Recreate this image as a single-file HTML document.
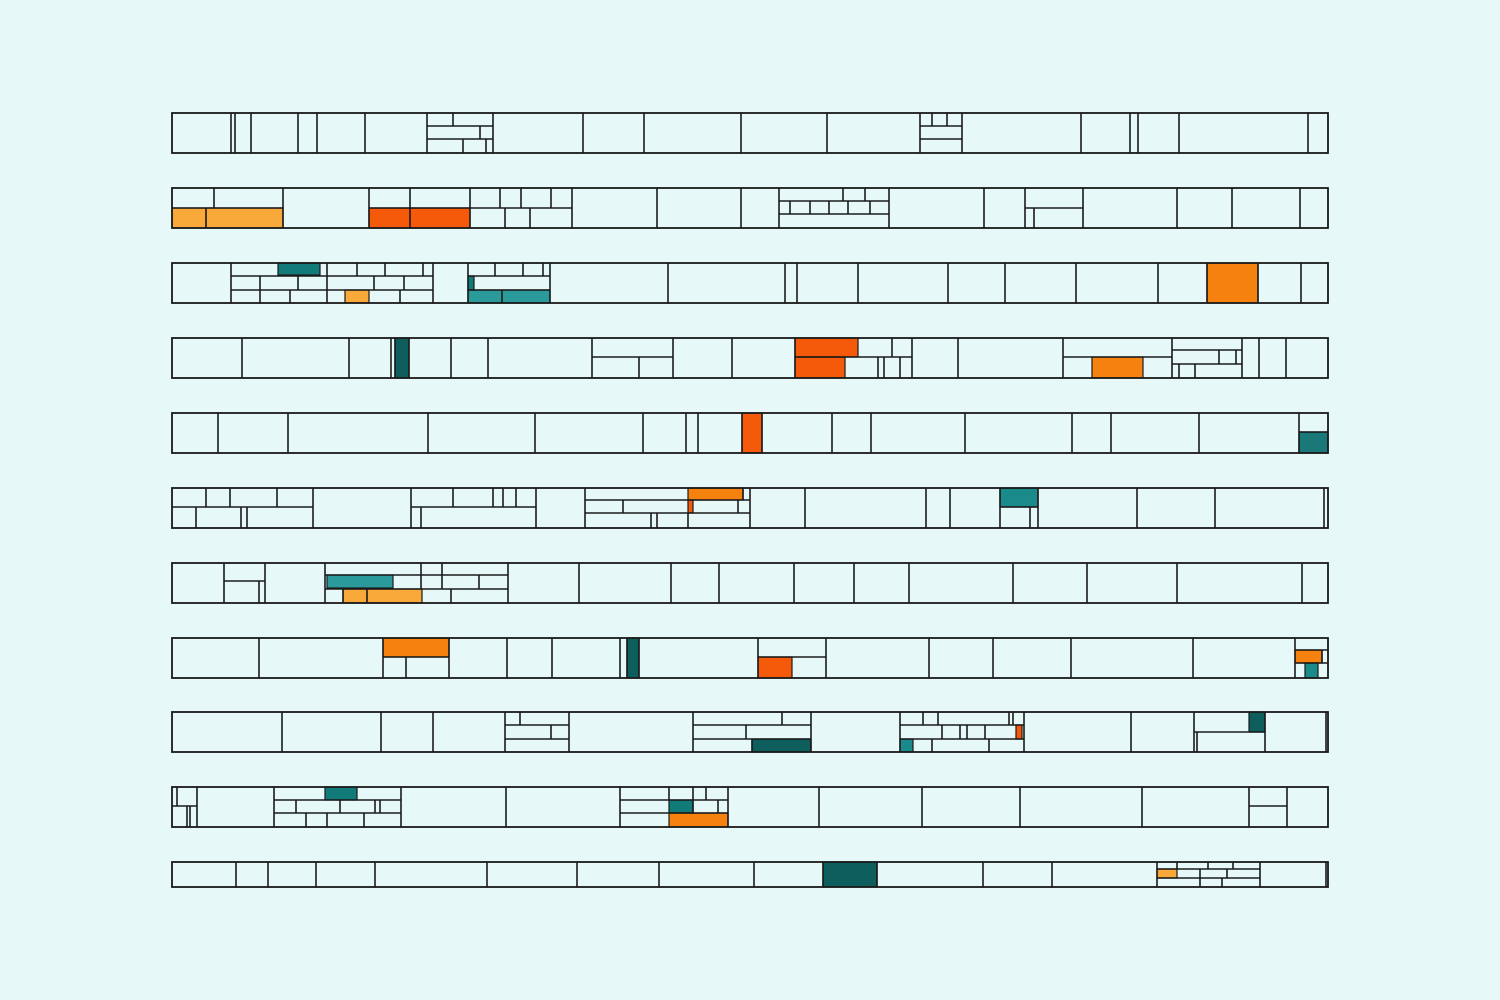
<!DOCTYPE html>
<html><head><meta charset="utf-8"><style>
html,body{margin:0;padding:0;background:#e6f9f8;}
svg{display:block}
</style></head><body>
<svg id="s" width="1500" height="1000" xmlns="http://www.w3.org/2000/svg">
<rect width="1500" height="1000" fill="#e6f9f8"/>
</svg>
<script>
const rows=[
 {y:113,h:40,v:[231,235,251,298,317,365,427,493,583,644,741,827,920,962,1081,1130,1138,1179,1308],
  f:[],hl:[[427,493,126],[427,493,139],[920,962,126],[920,962,139]],
  sv:[[453,113,126],[480,126,139],[463,139,153],[486,139,153],[932,113,126],[947,113,126]]},
 {y:188,h:40,v:[283,369,470,572,657,741,779,889,984,1025,1083,1177,1232,1300],
  f:[[172,208,111,20,'#f9a93a'],[369,208,101,20,'#f55a0a']],
  hl:[[172,283,208],[369,572,208],[1025,1083,208],[779,889,201],[779,889,214]],
  sv:[[214,188,208],[206,208,228],[410,188,228],[500,188,208],[521,188,208],[551,188,208],[505,208,228],[530,208,228],[843,188,201],[865,188,201],[790,201,214],[810,201,214],[829,201,214],[848,201,214],[870,201,214],[1034,208,228]]},
 {y:263,h:40,v:[231,433,468,550,668,785,797,858,948,1005,1076,1158,1207,1258,1301],
  f:[[278,263,42,12,'#137a7a'],[345,290,24,13,'#f9a93a'],[468,290,82,13,'#2a9a9a'],[468,276,6,14,'#137a7a'],[1207,263,51,40,'#f5820f']],
  hl:[[231,433,276],[231,433,290],[468,550,276],[468,550,290]],
  sv:[[327,263,276],[357,263,276],[385,263,276],[423,263,276],[260,276,290],[298,276,290],[327,276,290],[374,276,290],[404,276,290],[260,290,303],[290,290,303],[327,290,303],[400,290,303],[495,263,276],[523,263,276],[543,263,276],[502,290,303]]},
 {y:338,h:40,v:[242,349,391,395,409,451,488,592,673,732,795,912,958,1063,1172,1242,1259,1286],
  f:[[395,338,14,40,'#0e5e5e'],[795,338,63,19,'#f55a0a'],[795,357,50,21,'#f55a0a'],[1092,357,51,21,'#f5820f']],
  hl:[[592,673,357],[795,912,357],[1063,1172,357],[1172,1242,350],[1172,1242,364]],
  sv:[[639,357,378],[892,338,357],[878,357,378],[884,357,378],[900,357,378],[1219,350,364],[1179,364,378],[1195,364,378],[1236,350,364]]},
 {y:413,h:40,v:[218,288,428,535,643,686,698,742,762,832,871,965,1072,1111,1199,1299],
  f:[[742,413,20,40,'#f55a0a'],[1299,432,29,21,'#1a7878']],hl:[[1299,1328,432]],sv:[]},
 {y:488,h:40,v:[313,411,536,585,805,926,950,1000,1038,1137,1215,1324],
  f:[[688,488,55,12,'#f5820f'],[688,500,5,13,'#f55a0a'],[1000,488,38,19,'#1a8a8a']],
  hl:[[172,313,507],[411,536,507],[585,750,500],[585,750,513],[1000,1038,507]],
  sv:[[206,488,507],[230,488,507],[277,488,507],[196,507,528],[241,507,528],[247,507,528],[453,488,507],[493,488,507],[503,488,507],[516,488,507],[421,507,528],[623,500,513],[651,513,528],[657,513,528],[688,513,528],[738,500,513],[743,488,500],[750,488,528],[1030,507,528]]},
 {y:563,h:40,v:[224,265,325,508,579,671,719,794,854,909,1013,1087,1177,1302],
  f:[[327,575,66,13,'#2a9a9a'],[343,589,79,14,'#f9a93a']],
  hl:[[224,265,581],[325,508,575],[325,508,589]],
  sv:[[259,581,603],[421,563,575],[442,563,575],[421,575,589],[442,575,589],[479,575,589],[343,589,603],[367,589,603],[451,589,603]]},
 {y:638,h:40,v:[259,383,449,507,552,620,627,639,758,826,929,993,1071,1193,1295],
  f:[[383,638,66,19,'#f5820f'],[627,638,12,40,'#0e5e5e'],[758,657,34,21,'#f55a0a'],[1295,650,27,13,'#f5820f'],[1305,663,13,15,'#1a8a8a']],
  hl:[[383,449,657],[758,826,657],[1295,1328,650],[1295,1328,663]],
  sv:[[406,657,678],[1322,650,663]]},
 {y:712,h:40,v:[282,381,433,505,569,693,811,900,1024,1131,1194,1265,1326],
  f:[[752,739,59,13,'#0e5e5e'],[900,739,13,13,'#1a8a8a'],[1016,725,6,14,'#f55a0a'],[1249,712,16,20,'#0e5e5e']],
  hl:[[505,569,725],[505,569,739],[693,811,725],[693,811,739],[900,1024,725],[900,1024,739],[1194,1265,732]],
  sv:[[520,712,725],[551,725,739],[746,725,739],[782,712,725],[752,739,752],[923,712,725],[938,712,725],[1009,712,725],[1013,712,725],[942,725,739],[960,725,739],[967,725,739],[985,725,739],[932,739,752],[989,739,752],[1197,732,752]]},
 {y:787,h:40,v:[197,274,401,506,620,728,819,922,1020,1142,1249,1287],
  f:[[325,787,32,13,'#137a7a'],[669,800,24,13,'#137a7a'],[669,813,59,14,'#f5820f']],
  hl:[[172,197,806],[274,401,800],[274,401,813],[620,728,800],[620,728,813],[1249,1287,806]],
  sv:[[177,787,806],[187,806,827],[190,806,827],[296,800,813],[340,800,813],[375,800,813],[380,800,813],[306,813,827],[327,813,827],[364,813,827],[669,787,800],[693,787,800],[706,787,800],[718,800,813],[693,800,813]]},
 {y:862,h:25,v:[236,268,316,375,487,577,659,754,823,877,983,1052,1157,1260,1326],
  f:[[823,862,54,25,'#0e5e5e'],[1157,869,20,9,'#f9a93a']],hl:[[1157,1260,869],[1157,1260,878]],
  sv:[[1177,862,869],[1208,862,869],[1233,862,869],[1200,869,878],[1227,869,878],[1200,878,887],[1222,878,887]]}
];
const NS='http://www.w3.org/2000/svg',s=document.getElementById('s');
function el(t,a){const e=document.createElementNS(NS,t);for(const k in a)e.setAttribute(k,a[k]);s.appendChild(e);}
for(const r of rows){
 el('rect',{x:172,y:r.y,width:1156,height:r.h,fill:'#e6f9f8'});
 for(const f of r.f)el('rect',{x:f[0],y:f[1],width:f[2],height:f[3],fill:f[4]});
 for(const h of r.hl)el('line',{x1:h[0],x2:h[1],y1:h[2],y2:h[2],stroke:'#1a1a1a','stroke-width':1.6});
 for(const v of r.sv)el('line',{x1:v[0],x2:v[0],y1:v[1],y2:v[2],stroke:'#1a1a1a','stroke-width':1.6});
 for(const f of r.f)el('rect',{x:f[0],y:f[1],width:f[2],height:f[3],fill:'none',stroke:'#1a1a1a','stroke-width':1.2});
 for(const x of r.v)el('line',{x1:x,x2:x,y1:r.y,y2:r.y+r.h,stroke:'#1a1a1a','stroke-width':1.6});
 el('rect',{x:172,y:r.y,width:1156,height:r.h,fill:'none',stroke:'#1a1a1a','stroke-width':1.8});
}
</script>
</body></html>
